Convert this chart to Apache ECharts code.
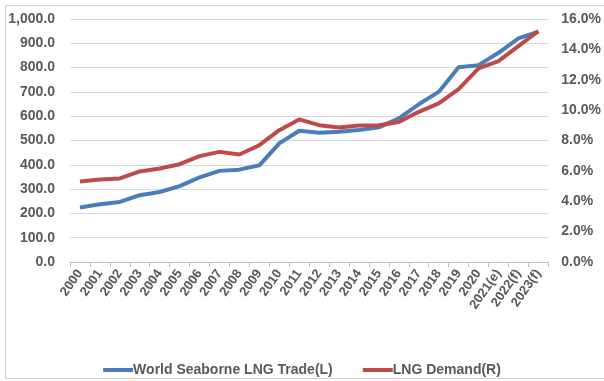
<!DOCTYPE html>
<html><head><meta charset="utf-8">
<script src="https://cdn.jsdelivr.net/npm/echarts@6/dist/echarts.min.js"></script>
<style>html,body{margin:0;padding:0;background:#fff}#c{width:604px;height:381px}</style>
</head><body><div id="c"></div>
<script>
const categories = ['2000','2001','2002','2003','2004','2005','2006','2007','2008','2009','2010','2011','2012','2013','2014','2015','2016','2017','2018','2019','2020','2021(e)','2022(f)','2023(f)'];
const seaborneTrade = [224, 238, 247, 275, 288, 312, 348, 375, 380, 398, 488, 540, 532, 536, 543, 554, 591, 649, 700, 801, 810, 861, 920, 948];
const lngDemand = [5.30, 5.43, 5.50, 5.96, 6.16, 6.44, 6.97, 7.25, 7.08, 7.69, 8.68, 9.39, 9.01, 8.86, 8.99, 9.01, 9.22, 9.89, 10.44, 11.39, 12.75, 13.23, 14.22, 15.20];
const seriesNames = ['World Seaborne LNG Trade(L)', 'LNG Demand(R)'];

const txt = '#595959';
const ff = 'Liberation Sans, Arial, sans-serif';
const chart = echarts.init(document.getElementById('c'), null, {renderer: 'canvas'});
chart.setOption({
  animation: false,
  backgroundColor: '#fff',
  graphic: [{type: 'rect', shape: {x: 5.5, y: 5.5, width: 640, height: 373}, style: {fill: 'none', stroke: '#d0d0d0', lineWidth: 1}, silent: true}],
  grid: {left: 70, right: 54, top: 19, bottom: 119},
  legend: {
    top: 358, left: 'center', itemWidth: 30, itemHeight: 4, itemGap: 30, icon: 'rect',
    textStyle: {color: txt, fontFamily: ff, fontWeight: 'bold', fontSize: 14, padding: [0, 0, 0, -5]},
    data: seriesNames
  },
  xAxis: {
    type: 'category', data: categories, boundaryGap: true,
    axisLine: {lineStyle: {color: '#bfbfbf'}},
    axisTick: {show: true, length: 5, lineStyle: {color: '#bfbfbf'}},
    axisLabel: {rotate: 55, interval: 0, color: txt, fontFamily: ff, fontWeight: 'bold', fontSize: 13, margin: 9}
  },
  yAxis: [{
    type: 'value', min: 0, max: 1000, interval: 100,
    axisLine: {show: false}, axisTick: {show: false},
    splitLine: {lineStyle: {color: '#d9d9d9'}},
    axisLabel: {color: txt, fontFamily: ff, fontWeight: 'bold', fontSize: 14, margin: 15,
      formatter: v => v.toLocaleString('en-US', {minimumFractionDigits: 1, maximumFractionDigits: 1})}
  }, {
    type: 'value', min: 0, max: 16, interval: 2, position: 'right',
    axisLine: {show: false}, axisTick: {show: false}, splitLine: {show: false},
    axisLabel: {color: txt, fontFamily: ff, fontWeight: 'bold', fontSize: 14, margin: 13,
      formatter: v => v.toFixed(1) + '%'}
  }],
  series: [{
    name: seriesNames[0], type: 'line', yAxisIndex: 0, data: seaborneTrade,
    showSymbol: false, symbol: 'none', lineStyle: {width: 4, color: '#4A7EBB'}, itemStyle: {color: '#4A7EBB'}
  }, {
    name: seriesNames[1], type: 'line', yAxisIndex: 1, data: lngDemand,
    showSymbol: false, symbol: 'none', lineStyle: {width: 4, color: '#BE4B48'}, itemStyle: {color: '#BE4B48'}
  }]
});
</script></body></html>
